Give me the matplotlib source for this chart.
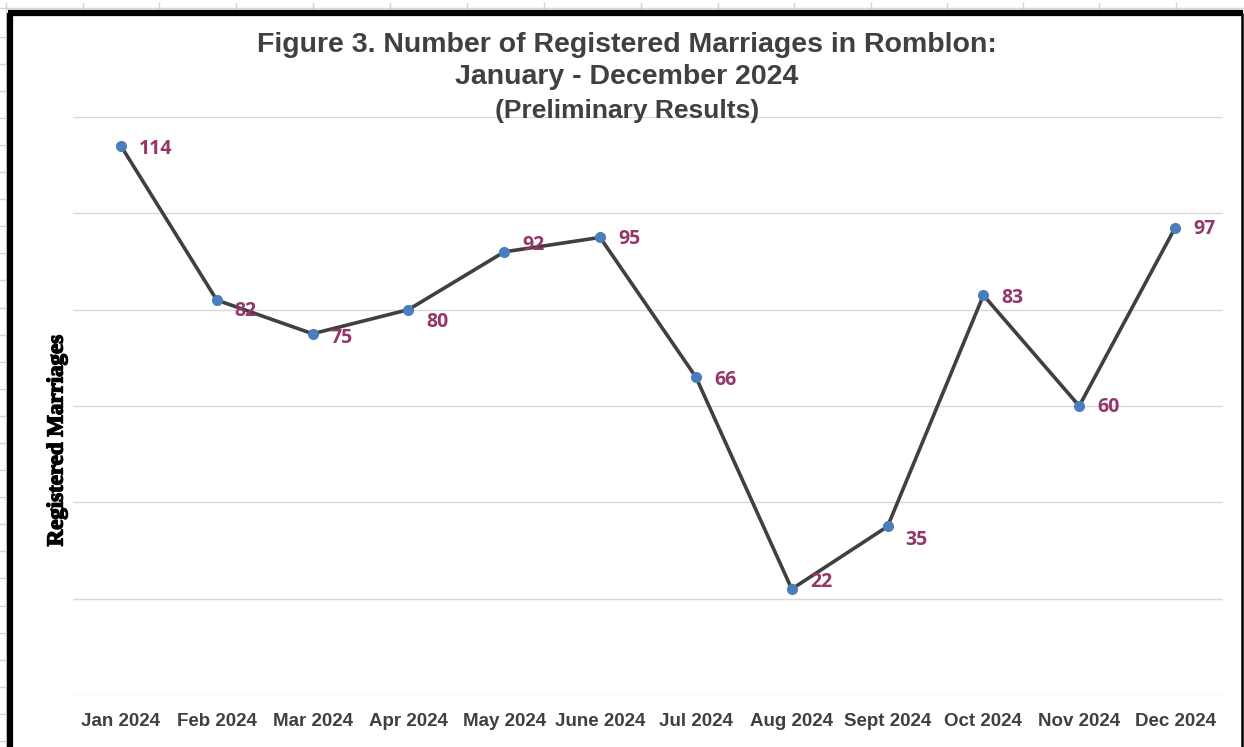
import matplotlib
matplotlib.use('Agg')
import matplotlib.pyplot as plt
import matplotlib.patheffects as pe
from matplotlib.lines import Line2D

# ── data ──────────────────────────────────────────────────────────────
months = ['Jan 2024', 'Feb 2024', 'Mar 2024', 'Apr 2024', 'May 2024', 'June 2024',
          'Jul 2024', 'Aug 2024', 'Sept 2024', 'Oct 2024', 'Nov 2024', 'Dec 2024']
marriages = [114, 82, 75, 80, 92, 95, 66, 22, 35, 83, 60, 97]

# label nudges (points, y) — mimics Excel's "right" placement quirks
label_dy = [-2, -8, -3, -9, 5, -1, -2, 5, -10, -2, -1, -1]

W, H = 1244, 747
fig = plt.figure(figsize=(W / 100, H / 100), dpi=100)
fig.patch.set_facecolor('white')


def fx(x): return x / W
def fy(y): return 1 - y / H


# spreadsheet cell grid peeking round the chart frame
grid_c = '#d4d4d4'
fig.add_artist(Line2D([0, 1], [fy(8), fy(8)], color=grid_c, lw=1))
fig.add_artist(Line2D([fx(6), fx(6)], [0, fy(8)], color=grid_c, lw=1))
for x in [6, 83, 159, 236, 313, 390, 467, 544, 641, 718, 794, 871, 947, 1023, 1099, 1176]:
    fig.add_artist(Line2D([fx(x), fx(x)], [fy(3), fy(9)], color=grid_c, lw=1))
for y in range(37, 747, 27):
    fig.add_artist(Line2D([0, fx(7)], [fy(y + y // 300), fy(y + y // 300)], color=grid_c, lw=1))

# chart frame
fig.add_artist(Line2D([fx(10), fx(10)], [0, fy(12.5)], color='black', lw=4.5,
                      solid_capstyle='butt'))
fig.add_artist(Line2D([fx(8), fx(1243)], [fy(12.5), fy(12.5)], color='black', lw=4.5,
                      solid_capstyle='butt'))
fig.add_artist(Line2D([fx(1241.5), fx(1241.5)], [0, fy(12.5)], color='black', lw=1.8,
                      solid_capstyle='butt'))

ax = fig.add_axes([fx(73), fy(695), fx(1223) - fx(73), fy(117) - fy(695)])
x = list(range(len(months)))
ax.plot(x, marriages, color='#404040', lw=2.6, zorder=3)
ax.plot(x, marriages, 'o', color='#4a7ebb', ms=7, zorder=4)

for xi, v, dy in zip(x, marriages, label_dy):
    ax.annotate(str(v), (xi, v), xytext=(13, dy), textcoords='offset points',
                ha='left', va='center', color='#943668', fontsize=14,
                fontweight='bold', family='Open Sans')

ax.set_xlim(-0.5, len(months) - 0.5)
ax.set_ylim(0, 120)
ax.set_yticks(range(0, 121, 20))
ax.set_yticklabels([])
ax.tick_params(axis='y', length=0)
ax.tick_params(axis='x', length=0, pad=13)
ax.set_xticks(x)
ax.set_xticklabels(months, fontsize=13.5, fontweight='bold', color='#404040',
                   family='Liberation Sans')
ax.grid(axis='y', color='#d9d9d9', lw=1)
ax.set_axisbelow(True)
for s in ax.spines.values():
    s.set_visible(False)

# titles
fig.text(fx(627), fy(45), 'Figure 3. Number of Registered Marriages in Romblon:',
         ha='center', va='center', fontsize=20.5, fontweight='bold',
         color='#404040', family='Liberation Sans')
fig.text(fx(627), fy(77), 'January - December 2024', ha='center', va='center',
         fontsize=20.5, fontweight='bold', color='#404040', family='Liberation Sans')
fig.text(fx(627), fy(111), '(Preliminary Results)', ha='center', va='center',
         fontsize=19, fontweight='bold', color='#404040', family='Liberation Sans')

fig.text(fx(57), fy(441), 'Registered Marriages', rotation=90, ha='center', va='center',
         fontsize=16.5, fontweight='bold', color='black', family='Liberation Serif',
         path_effects=[pe.withStroke(linewidth=1.0, foreground='black')])

fig.savefig('out.png', dpi=100)
